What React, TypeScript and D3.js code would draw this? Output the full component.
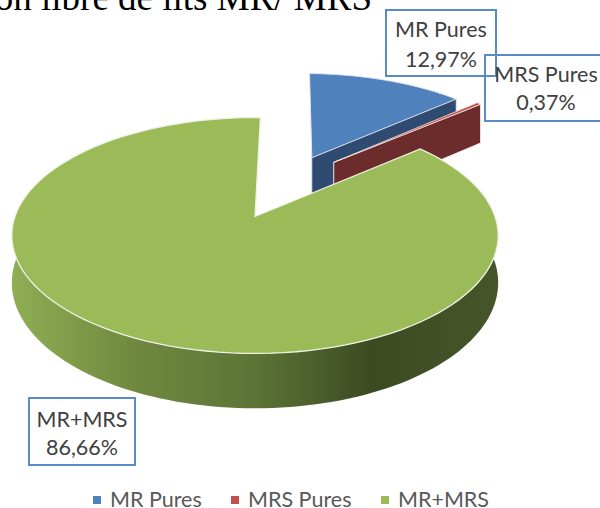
import React from "react";
import * as d3 from "d3";

const categories = ["MR Pures", "MRS Pures", "MR+MRS"];
const shares = [12.97, 0.37, 86.66];
const offsetU = [0.258, 0.355, 0];
const offsetV = [0.556, 0.51, 0];
const topColors = ["#4f81bd", "#c0504d", "#9bbb59"];
const wallColors = ["#2f4b72", "#6c2c2b", "#3f4e24"];
const titleText = "on libre de lits MR/ MRS";

const W = 600, H = 508;
const cx = 255, cy = 216.5, bx = 240, by = 114.9, k = 0.161, depth = 46;
const rotation = (1.5 * Math.PI) / 180;

// perspective projection of a point in the unit disc plane
const proj = (u: number, v: number, low: boolean): [number, number] => {
  const den = 1 + k * v;
  return [cx + (bx * u) / den, cy - (by * v) / den + (low ? depth / den : 0)];
};

const pie = d3.pie<number>().sort(null).startAngle(rotation).endAngle(rotation + 2 * Math.PI);
const arcs = pie(shares);

const pt = (i: number, r: number, a: number, low = false) =>
  proj(offsetU[i] + r * Math.sin(a), offsetV[i] + r * Math.cos(a), low);
const line = d3.line();
const arcPts = (i: number, a0: number, a1: number, low = false) =>
  d3.range(0, 121).map((s) => pt(i, 1, a0 + ((a1 - a0) * s) / 120, low));

const topPath = (i: number) =>
  line([pt(i, 0, 0), ...arcPts(i, arcs[i].startAngle, arcs[i].endAngle)])! + "Z";
const cutFace = (i: number, a: number) =>
  line([pt(i, 0, 0), pt(i, 1, a), pt(i, 1, a, true), pt(i, 0, 0, true)])! + "Z";
const greenWall = () => {
  const a0 = Math.PI * 0.42, a1 = Math.PI * 1.6;
  return line([...arcPts(2, a0, a1), ...arcPts(2, a1, a0, true)])! + "Z";
};

const pct = (v: number) => v.toFixed(2).replace(".", ",") + "%";
const labelBoxes = [
  { x: 386, y: 10, w: 110, h: 66, b1: 37, b2: 67 },
  { x: 485, y: 55, w: 120, h: 66, b1: 82, b2: 110 },
  { x: 29, y: 398, w: 106, h: 67, b1: 427, b2: 455 },
];
const labelCenters = [441, 546, 82];
const legendX = [93, 231, 381];
const font = "Lato, 'Open Sans', sans-serif";

export default function App() {
  return (
    <svg width={W} height={H} style={{ position: "absolute", left: 0, top: 0 }} fontFamily={font}>
      <defs>
        <linearGradient id="gw" gradientUnits="userSpaceOnUse" x1={12} x2={498} y1={0} y2={0}>
          <stop offset="0" stopColor="#8fae54" />
          <stop offset="0.25" stopColor="#70893f" />
          <stop offset="0.5" stopColor="#5c7436" />
          <stop offset="0.74" stopColor="#3c4a22" />
          <stop offset="1" stopColor="#46562a" />
        </linearGradient>
      </defs>
      <rect width={W} height={H} fill="#fff" />
      <text x={372} y={10} textAnchor="end" fontFamily="'Liberation Serif', serif" fontSize={37} fill="#000">
        {titleText}
      </text>

      <path d={topPath(0)} fill={topColors[0]} stroke="#dfe6ef" strokeWidth={1} />
      <path d={cutFace(0, arcs[0].endAngle)} fill={wallColors[0]} stroke="#dfe6ef" strokeWidth={0.8} />
      <path d={cutFace(1, arcs[1].endAngle)} fill={wallColors[1]} stroke="#eee" strokeWidth={1} />
      <path d={topPath(1)} fill={topColors[1]} stroke="#f1dede" strokeWidth={0.8} />

      <path d={greenWall()} fill="url(#gw)" />
      <path d={topPath(2)} fill={topColors[2]} stroke="#eef2e4" strokeWidth={1.3} />

      {labelBoxes.map((b, i) => (
        <g key={categories[i]}>
          <rect x={b.x} y={b.y} width={b.w} height={b.h} fill="none" stroke="#5b8bc4" strokeWidth={2} />
          <text x={labelCenters[i]} y={b.b1} textAnchor="middle" fontSize={21.5} fill="#404040">
            {categories[i]}
          </text>
          <text x={labelCenters[i]} y={b.b2} textAnchor="middle" fontSize={21.5} fill="#404040">
            {pct(shares[i])}
          </text>
        </g>
      ))}

      {categories.map((c, i) => (
        <g key={c}>
          <rect x={legendX[i]} y={496} width={8} height={8} fill={topColors[i]} />
          <text x={legendX[i] + 17} y={507} fontSize={21.5} fill="#595959">
            {c}
          </text>
        </g>
      ))}
    </svg>
  );
}
